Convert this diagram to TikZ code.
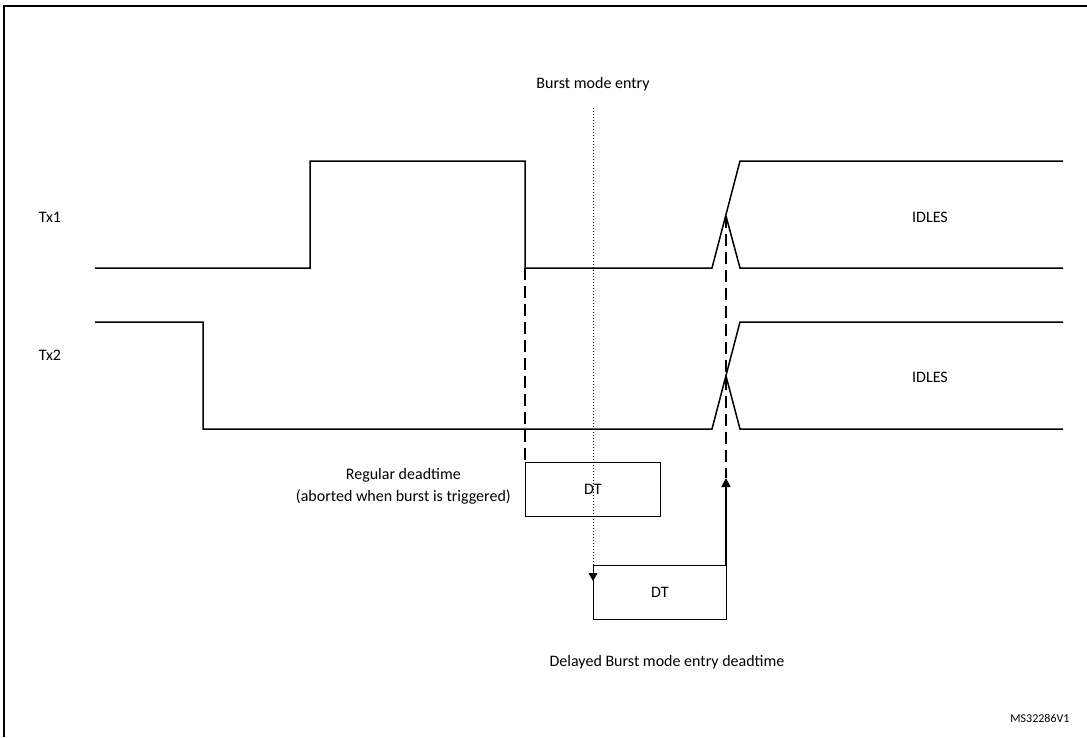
\documentclass[tikz,border=0pt]{standalone}
\usepackage{fontspec}
\setmainfont{Carlito}
\usetikzlibrary{arrows.meta}
\begin{document}
\begin{tikzpicture}[x=1pt,y=-1pt,
  sig/.style={line width=1.5pt},
  lbl/.style={font=\fontsize{16}{19}\selectfont,inner sep=0pt},
  dtbox/.style={draw,line width=0.8pt,minimum width=135pt,minimum height=54pt,inner sep=0pt,font=\fontsize{16}{19}\selectfont},
  dsh/.style={line width=1.5pt,dash pattern=on 12pt off 6pt}]
\useasboundingbox (0,0) rectangle (1087,737);
\draw[line width=1.5pt] (4,737) -- (4,6) -- (1087,6);
% Tx1
\draw[sig] (95,268) -- (310,268) -- (310,161) -- (525,161) -- (525,268) -- (712,268) -- (740,161) -- (1063,161);
\draw[sig] (726,216) -- (740,268) -- (1063,268);
% Tx2
\draw[sig] (95,322) -- (203,322) -- (203,429) -- (712,429) -- (740,322) -- (1063,322);
\draw[sig] (726,376) -- (740,429) -- (1063,429);
% boxes
\node[dtbox,anchor=north west] (dt1) at (525,462) {DT};
\node[dtbox,anchor=north west,minimum width=133pt] (dt2) at (593,565) {DT};
\coordinate (a1) at (525,268);
\coordinate (a2) at (726,216);
\coordinate (b1) at (593,108);
\coordinate (b2) at (593,581);
\coordinate (c1) at (726,565);
\coordinate (c2) at (726,478);
\draw[dsh] (a1) -- (dt1.north west);
\draw[dsh] (a2) -- (726,478);
\draw[line width=1pt,dotted,-{Triangle[width=9pt,length=8pt]}] (b1) -- (b2);
\draw[line width=1.5pt,-{Triangle[width=9pt,length=9pt]}] (c1) -- (c2);
% labels
\node[lbl] (bme) at (593,84) {Burst mode entry};
\node[lbl] (t1) at (50,217) {Tx1};
\node[lbl] (t2) at (50,355) {Tx2};
\node[lbl] (i1) at (930,217) {IDLES};
\node[lbl] (i2) at (930,377) {IDLES};
\node[lbl,align=center,anchor=east] (rd) at (511,486) {Regular deadtime\\[3pt](aborted when burst is triggered)};
\node[lbl] (dd) at (667,662) {Delayed Burst mode entry deadtime};
\node[lbl,font=\fontsize{12}{14}\selectfont] (ms) at (1040,718) {MS32286V1};
\end{tikzpicture}
\end{document}
